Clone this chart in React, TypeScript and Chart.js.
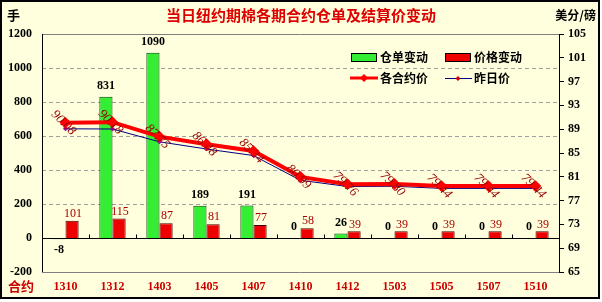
import React, { useEffect, useRef } from "react";
import { Chart, registerables } from "chart.js";

Chart.register(...registerables);

const title = "当日纽约期棉各期合约仓单及结算价变动";
const categories = ["1310", "1312", "1403", "1405", "1407", "1410", "1412", "1503", "1505", "1507", "1510"];
const warrantChange = [-8, 831, 1090, 189, 191, 0, 26, 0, 0, 0, 0];
const priceChange = [101, 115, 87, 81, 77, 58, 39, 39, 39, 39, 39];
const settlePrice = [90.08, 90.18, 87.75, 86.48, 85.34, 80.99, 79.76, 79.8, 79.44, 79.44, 79.44];
const prevPrice = [89.07, 89.03, 86.88, 85.67, 84.57, 80.41, 79.37, 79.41, 79.05, 79.05, 79.05];
const seriesNames = ["仓单变动", "价格变动", "各合约价", "昨日价"];

const NUM_FONT = "'Liberation Serif', 'Times New Roman', serif";
const CJK_FONT = "'Noto Sans CJK SC', 'Noto Sans', sans-serif";
const BG = "#FFFFDD";

const decorPlugin = {
  id: "decor",
  beforeDraw(chart: any) {
    const ctx = chart.ctx;
    ctx.save();
    ctx.fillStyle = "#ffffff";
    ctx.fillRect(0, 0, chart.width, chart.height);
    ctx.fillStyle = BG;
    ctx.fillRect(0, 0, 600, 299);
    ctx.strokeStyle = "#000";
    ctx.lineWidth = 2;
    ctx.strokeRect(1, 1, 598, 297);
    ctx.restore();
  },
  beforeDatasetsDraw(chart: any) {
    const ctx = chart.ctx;
    const { left, right, top, bottom } = chart.chartArea;
    const y = chart.scales.y;
    ctx.save();
    ctx.strokeStyle = "#A0A0A0";
    ctx.lineWidth = 1;
    ctx.setLineDash([4, 3]);
    for (const v of [200, 400, 600, 800, 1000]) {
      const py = Math.round(y.getPixelForValue(v)) + 0.5;
      ctx.beginPath();
      ctx.moveTo(left, py);
      ctx.lineTo(right, py);
      ctx.stroke();
    }
    ctx.setLineDash([]);
    ctx.strokeStyle = "#808080";
    ctx.beginPath();
    ctx.moveTo(left, Math.round(top) + 0.5);
    ctx.lineTo(right, Math.round(top) + 0.5);
    ctx.moveTo(left, Math.round(bottom) + 0.5);
    ctx.lineTo(right, Math.round(bottom) + 0.5);
    ctx.stroke();
    ctx.strokeStyle = "#000";
    ctx.beginPath();
    ctx.moveTo(Math.round(left) + 0.5, top);
    ctx.lineTo(Math.round(left) + 0.5, bottom);
    ctx.stroke();
    ctx.restore();
  },
  afterDatasetsDraw(chart: any) {
    const ctx = chart.ctx;
    const { left, right } = chart.chartArea;
    const y = chart.scales.y;
    ctx.save();
    const zy = Math.round(y.getPixelForValue(0)) + 0.5;
    ctx.strokeStyle = "#000";
    ctx.lineWidth = 1;
    ctx.beginPath();
    ctx.moveTo(left, zy);
    ctx.lineTo(right, zy);
    const step = (right - left) / categories.length;
    for (let i = 1; i < categories.length; i++) {
      const px = Math.round(left + step * i) + 0.5;
      ctx.moveTo(px, zy);
      ctx.lineTo(px, zy - 4);
    }
    ctx.stroke();

    const gMeta = chart.getDatasetMeta(0);
    ctx.textAlign = "center";
    ctx.font = `bold 12px ${NUM_FONT}`;
    ctx.fillStyle = "#000";
    gMeta.data.forEach((el: any, i: number) => {
      const v = warrantChange[i];
      if (v < 0) {
        ctx.textBaseline = "top";
        ctx.fillText(String(v), el.x, el.y + 5);
      } else {
        ctx.textBaseline = "bottom";
        ctx.fillText(String(v), el.x, el.y - 5);
      }
    });
    const rMeta = chart.getDatasetMeta(1);
    ctx.font = `12px ${NUM_FONT}`;
    ctx.fillStyle = "#AA0000";
    ctx.textBaseline = "bottom";
    rMeta.data.forEach((el: any, i: number) => {
      ctx.fillText(String(priceChange[i]), el.x + 1, el.y - 1);
    });

    const sMeta = chart.getDatasetMeta(2);
    ctx.font = `italic 13px ${NUM_FONT}`;
    ctx.fillStyle = "#990000";
    ctx.textBaseline = "middle";
    ctx.textAlign = "center";
    sMeta.data.forEach((el: any, i: number) => {
      ctx.save();
      ctx.translate(el.x - 2, el.y);
      ctx.rotate(Math.PI / 4);
      ctx.fillText(settlePrice[i].toFixed(2), 0, 0);
      ctx.restore();
    });
    ctx.restore();
  },
  afterDraw(chart: any) {
    const ctx = chart.ctx;
    ctx.save();
    ctx.textBaseline = "middle";
    ctx.textAlign = "center";
    ctx.fillStyle = "#DD0000";
    ctx.font = `bold 15px ${CJK_FONT}`;
    ctx.fillText(title, 301, 15);
    ctx.fillStyle = "#000";
    ctx.font = `bold 13px ${CJK_FONT}`;
    ctx.textAlign = "left";
    ctx.fillText("手", 7, 15);
    ctx.textAlign = "right";
    ctx.font = `bold 12px ${CJK_FONT}`;
    ctx.fillText("美分/磅", 596, 15);
    ctx.textAlign = "center";
    ctx.fillStyle = "#CC0000";
    ctx.font = `bold 13px ${CJK_FONT}`;
    ctx.fillText("合约", 21, 286);

    ctx.font = `bold 12px ${CJK_FONT}`;
    ctx.textAlign = "left";
    ctx.lineWidth = 1;
    ctx.strokeStyle = "#000";
    ctx.fillStyle = "#33EE33";
    ctx.fillRect(351, 53, 25, 8);
    ctx.strokeRect(351.5, 53.5, 25, 8);
    ctx.fillStyle = "#EE0000";
    ctx.fillRect(445, 53, 25, 8);
    ctx.strokeRect(445.5, 53.5, 25, 8);
    ctx.fillStyle = "#000";
    ctx.fillText(seriesNames[0], 380, 57);
    ctx.fillText(seriesNames[1], 474, 57);
    ctx.fillText(seriesNames[2], 380, 78);
    ctx.fillText(seriesNames[3], 474, 78);

    ctx.strokeStyle = "#FF0000";
    ctx.lineWidth = 3;
    ctx.beginPath();
    ctx.moveTo(350, 78);
    ctx.lineTo(378, 78);
    ctx.stroke();
    ctx.fillStyle = "#FF0000";
    ctx.beginPath();
    ctx.moveTo(364, 74);
    ctx.lineTo(368, 78);
    ctx.lineTo(364, 82);
    ctx.lineTo(360, 78);
    ctx.closePath();
    ctx.fill();

    ctx.strokeStyle = "#000080";
    ctx.lineWidth = 1;
    ctx.beginPath();
    ctx.moveTo(445, 78.5);
    ctx.lineTo(472, 78.5);
    ctx.stroke();
    ctx.fillStyle = "#CC0000";
    ctx.beginPath();
    ctx.moveTo(458, 76);
    ctx.lineTo(460.5, 78.5);
    ctx.lineTo(458, 81);
    ctx.lineTo(455.5, 78.5);
    ctx.closePath();
    ctx.fill();
    ctx.restore();
  },
};

export default function App() {
  const ref = useRef<HTMLCanvasElement | null>(null);
  useEffect(() => {
    document.body.style.margin = "0";
    document.body.style.overflow = "hidden";
    const canvas = ref.current!;
    const chart = new Chart(canvas, {
      data: {
        labels: categories,
        datasets: [
          {
            type: "bar",
            label: seriesNames[0],
            data: warrantChange,
            yAxisID: "y",
            backgroundColor: "#33EE33",
            borderColor: "#004400",
            borderWidth: 1,
            categoryPercentage: 0.56,
            barPercentage: 1,
            order: 10,
          },
          {
            type: "bar",
            label: seriesNames[1],
            data: priceChange,
            yAxisID: "y",
            backgroundColor: "#EE0000",
            borderColor: "#440000",
            borderWidth: 1,
            categoryPercentage: 0.56,
            barPercentage: 1,
            order: 10,
          },
          {
            type: "line",
            label: seriesNames[2],
            data: settlePrice,
            yAxisID: "y2",
            borderColor: "#FF0000",
            backgroundColor: "#FF0000",
            borderWidth: 4,
            pointStyle: "rectRot",
            pointRadius: 3,
            pointBackgroundColor: "#FF0000",
            pointBorderColor: "#FF0000",
            tension: 0,
            order: 2,
          },
          {
            type: "line",
            label: seriesNames[3],
            data: prevPrice,
            yAxisID: "y2",
            borderColor: "#000080",
            backgroundColor: "#000080",
            borderWidth: 1,
            pointStyle: "rectRot",
            pointRadius: 2,
            pointBackgroundColor: "#9900AA",
            pointBorderColor: "#9900AA",
            tension: 0,
            order: 3,
          },
        ],
      } as any,
      options: {
        responsive: false,
        animation: false,
        layout: { padding: { top: 34, left: 0, right: 0, bottom: 0 } },
        plugins: {
          legend: { display: false },
          tooltip: { enabled: false },
          title: { display: false },
        },
        scales: {
          x: {
            position: "bottom",
            grid: { display: false, drawTicks: false },
            border: { display: false },
            ticks: {
              color: "#CC0000",
              font: { family: NUM_FONT, weight: "bold", size: 12 },
              padding: 8,
              maxRotation: 0,
              autoSkip: false,
            },
            afterFit: (s: any) => {
              s.height = 30;
            },
          },
          y: {
            position: "left",
            min: -200,
            max: 1200,
            ticks: {
              stepSize: 200,
              color: "#000",
              font: { family: NUM_FONT, weight: "bold", size: 12 },
              padding: 10,
              callback: (v: any) => String(v),
            },
            grid: { display: false, drawTicks: false },
            border: { display: false },
            afterFit: (s: any) => {
              s.width = 42;
            },
          },
          y2: {
            position: "right",
            min: 65,
            max: 105,
            ticks: {
              stepSize: 4,
              color: "#000",
              font: { family: NUM_FONT, weight: "bold", size: 12 },
              padding: 4,
              callback: (v: any) => String(v),
            },
            grid: { drawOnChartArea: false, color: "#000", tickLength: 5 },
            border: { color: "#000" },
            afterFit: (s: any) => {
              s.width = 43;
            },
          },
        },
      } as any,
      plugins: [decorPlugin],
    });
    return () => chart.destroy();
  }, []);
  return <canvas ref={ref} width={602} height={302} style={{ display: "block", width: 602, height: 302 }} />;
}
